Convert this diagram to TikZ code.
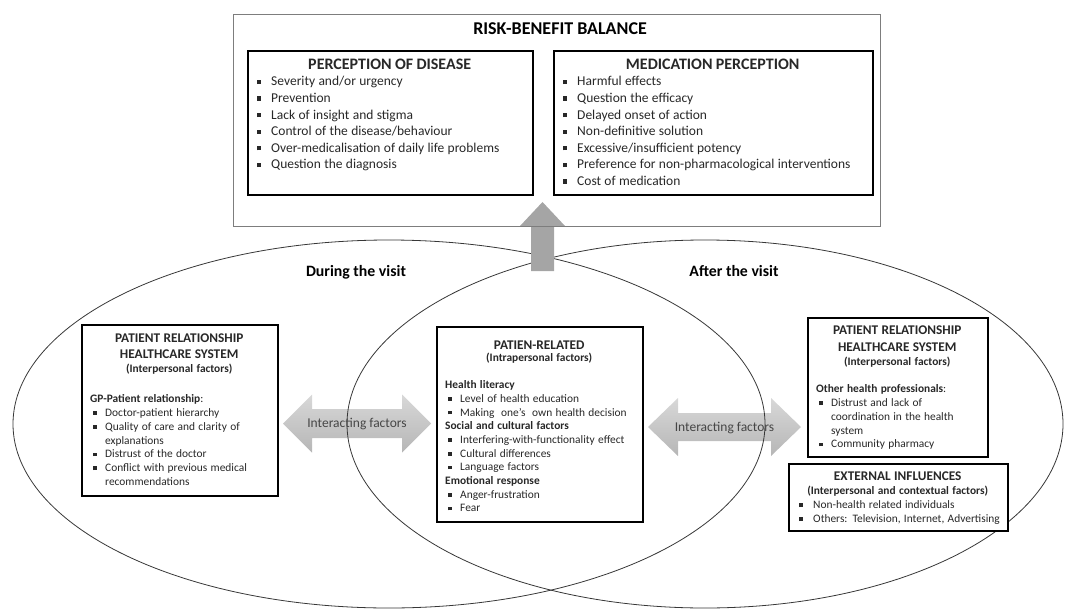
\documentclass[tikz,border=0pt]{standalone}
\usepackage{fontspec}
\setmainfont{Carlito}
\usetikzlibrary{calc}

\definecolor{ellipseline}{RGB}{55,55,55}
\definecolor{outerframe}{RGB}{125,125,125}
\definecolor{liftgray}{RGB}{165,165,165}
\definecolor{flowlight}{RGB}{216,216,216}
\definecolor{flowdark}{RGB}{182,182,182}
\definecolor{bodyink}{RGB}{40,40,40}
\definecolor{flowink}{RGB}{70,70,70}

% bulleted line with hanging indent
\newlength\bulind
\newlength\bulgap
\setlength\bulind{15pt}
\setlength\bulgap{3pt}
\newcommand\bl{\par\noindent\hangindent=\bulind\hangafter=1%
  \makebox[\bulind][l]{\hspace*{\bulgap}\raisebox{0.14em}{\rule{0.31em}{0.31em}}}\ignorespaces}
% invisible strut fixing the height of a first line (in pt)
\newcommand\topline[1]{\rule{0pt}{#1pt}}

\begin{document}
\begin{tikzpicture}[x=1pt,y=-1pt,
  box/.style={draw=black, line width=1.6pt, fill=white, inner sep=0pt, anchor=north west},
  topbox/.style={box, line width=1.7pt},
  content/.style={anchor=north west, inner sep=0pt, align=left, text=bodyink},
  phase/.style={anchor=base, font=\bfseries\fontsize{15.8}{19}\selectfont},
  flowtext/.style={anchor=base, text=flowink, font=\fontsize{13.5}{16}\selectfont},
  flow/.style={top color=flowlight, bottom color=flowdark}
]
\useasboundingbox (0,0) rectangle (1065,610);

% double block arrows between the factor groups
\shade[flow] (283,423.5) -- (312,394.5) -- (312,409) -- (402,409) -- (402,394.5)
  -- (431,423.5) -- (402,452.5) -- (402,438) -- (312,438) -- (312,452.5) -- cycle;
\shade[flow] (648,427) -- (678,398) -- (678,413) -- (771,413) -- (771,398)
  -- (801,427) -- (771,456) -- (771,441) -- (678,441) -- (678,456) -- cycle;

% the two phases of the consultation
\draw[ellipseline, line width=0.8pt] (389,424) ellipse [x radius=376pt, y radius=184pt];
\draw[ellipseline, line width=0.8pt] (705,424) ellipse [x radius=358pt, y radius=184pt];

% arrow up to the balance
\fill[liftgray] (531,271) -- (531,226) -- (520,226) -- (542.5,202) -- (565,226)
  -- (554,226) -- (554,271) -- cycle;

% risk-benefit balance
\node[draw=outerframe, line width=1pt, inner sep=0pt, minimum width=647,
  minimum height=212, anchor=north west] (balance) at (233,14) {};
\node[anchor=base, font=\bfseries\fontsize{18}{21}\selectfont] (balancetitle) at (560,34.8) {RISK-BENEFIT BALANCE};

\node[topbox, minimum width=285, minimum height=144] (disease) at (247,50) {};
\node[topbox, minimum width=319, minimum height=144] (medication) at (553,50) {};

\node[content, text width=275] (diseasetext) at (252,53.7) {%
  \setlength\bulind{19pt}\setlength\bulgap{4.5pt}%
  {\centering\bfseries\fontsize{16}{19}\selectfont\topline{16}PERCEPTION OF DISEASE\par}
  \fontsize{13.5}{16.6}\selectfont\vspace{-0.6pt}
  \bl Severity and/or urgency
  \bl Prevention
  \bl Lack of insight and stigma
  \bl Control of the disease/behaviour
  \bl \mbox{Over-medicalisation of daily life problems}
  \bl Question the diagnosis\par};

\node[content, text width=309] (medicationtext) at (558,53.7) {%
  \setlength\bulind{19pt}\setlength\bulgap{4.5pt}%
  {\centering\bfseries\fontsize{16}{19}\selectfont\topline{16}MEDICATION PERCEPTION\par}
  \fontsize{13.5}{16.6}\selectfont\vspace{-0.6pt}
  \bl Harmful effects
  \bl Question the efficacy
  \bl Delayed onset of action
  \bl Non-definitive solution
  \bl Excessive/insufficient potency
  \bl \mbox{Preference for non-pharmacological interventions}
  \bl Cost of medication\par};

% phase labels
\node[phase] (during) at (356,276) {During the visit};
\node[phase] (after) at (734,276) {After the visit};

% during the visit: GP and healthcare system
\node[box, minimum width=196, minimum height=171] (gpbox) at (81,324) {};
\node[content, text width=178] (gptext) at (90,329) {%
  {\centering\bfseries\fontsize{13.3}{16}\selectfont\topline{13.3}PATIENT RELATIONSHIP\\HEALTHCARE SYSTEM\par}
  {\centering\bfseries\fontsize{11.4}{14.1}\selectfont (Interpersonal factors)\par}
  \fontsize{11.4}{13.8}\selectfont\vspace{16.2pt}
  \noindent{\bfseries GP-Patient relationship}:
  \bl Doctor-patient hierarchy
  \bl Quality of care and clarity of\newline explanations
  \bl Distrust of the doctor
  \bl Conflict with previous medical\newline recommendations\par};

% patient-related factors
\node[box, minimum width=206, minimum height=195] (selfbox) at (436,326) {};
\node[content, text width=188] (selftext) at (445,336) {%
  {\centering\bfseries\fontsize{13.3}{16}\selectfont\topline{13.3}PATIEN-RELATED\par}
  {\centering\bfseries\fontsize{11.4}{11.8}\selectfont (Intrapersonal factors)\par}
  \fontsize{11.4}{13.7}\selectfont\vspace{13.6pt}
  \noindent{\bfseries Health literacy}
  \bl Level of health education
  \bl \mbox{Making\ \ one’s\ \ own health decision}
  \par\noindent{\bfseries Social and cultural factors}
  \bl \mbox{Interfering-with-functionality effect}
  \bl Cultural differences
  \bl Language factors
  \par\noindent{\bfseries Emotional response}
  \bl Anger-frustration
  \bl Fear\par};

% after the visit: other professionals
\node[box, minimum width=180, minimum height=139] (otherbox) at (807,317) {};
\node[content, text width=162] (othertext) at (816,321) {%
  {\centering\bfseries\fontsize{13.3}{16.7}\selectfont\topline{13.3}PATIENT RELATIONSHIP\\HEALTHCARE SYSTEM\par}
  {\centering\bfseries\fontsize{11.4}{14.1}\selectfont (Interpersonal factors)\par}
  \fontsize{11.4}{13.7}\selectfont\vspace{13.9pt}
  \noindent{\bfseries Other health professionals}:
  \bl Distrust and lack of\newline coordination in the health\newline system
  \bl Community pharmacy\par};

% after the visit: external influences
\node[box, minimum width=219, minimum height=67] (extbox) at (788,463) {};
\node[content, text width=203] (exttext) at (796,467) {%
  \setlength\bulind{17pt}%
  {\centering\bfseries\fontsize{13.3}{16}\selectfont\topline{13.3}EXTERNAL INFLUENCES\par}
  {\centering\bfseries\fontsize{11.4}{14.1}\selectfont \mbox{(Interpersonal and contextual factors)}\par}
  \fontsize{11.4}{14}\selectfont
  \bl Non-health related individuals
  \bl \mbox{Others: Television, Internet, Advertising}\par};

% interacting factors labels
\node[flowtext] (flowleft) at (357,427.5) {Interacting factors};
\node[flowtext] (flowright) at (724.5,431) {Interacting factors};
\end{tikzpicture}
\end{document}
